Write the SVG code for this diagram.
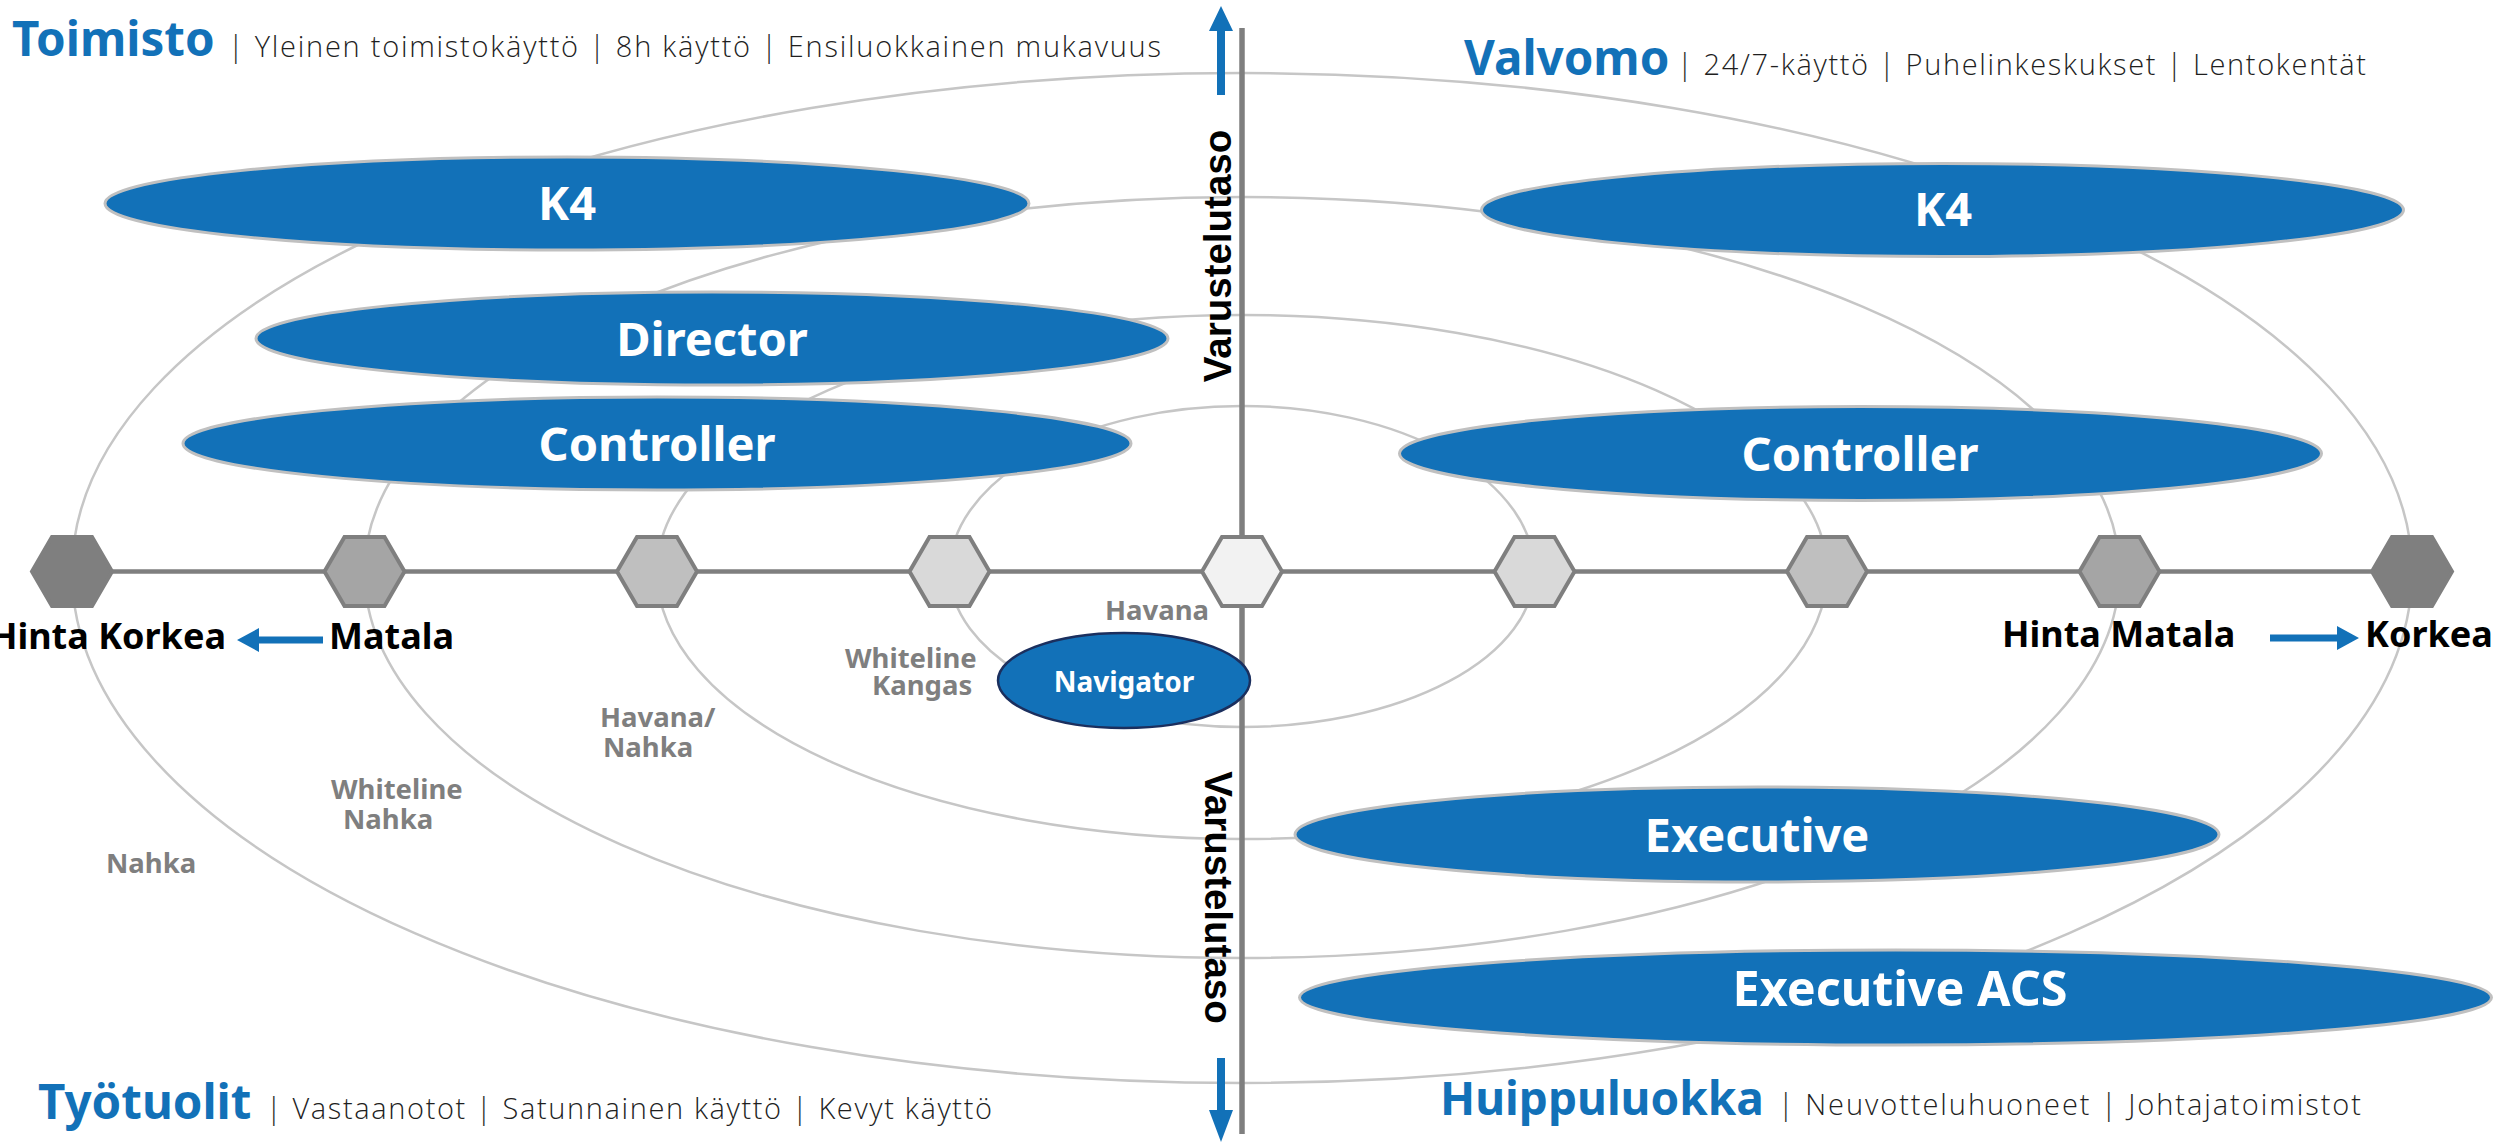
<svg xmlns="http://www.w3.org/2000/svg" width="2501" height="1144" viewBox="0 0 2501 1144">
<defs>
<style>
.ring{fill:none;stroke:#c6c6c6;stroke-width:2.5}
.axis{stroke:#7f7f7f;fill:none}
.arrow{fill:#1271b8}
.hex{stroke:#7f7f7f;stroke-width:4;stroke-linejoin:miter}
.prod{fill:#1271b8;stroke:#c0c0c0;stroke-width:3}
.ptxt{font-family:"Noto Sans","Liberation Sans",sans-serif;font-weight:700;font-size:47px;fill:#ffffff;text-anchor:middle}
.title{font-family:"Noto Sans","Liberation Sans",sans-serif;font-weight:700;font-size:47.5px;fill:#1271b8}
.sub{font-family:"Open Sans","Lato","Liberation Sans",sans-serif;font-weight:300;font-size:29px;fill:#1f1f1f}
.lbl{font-family:"Noto Sans","Liberation Sans",sans-serif;font-weight:700;font-size:27.5px;fill:#7f7f7f}
.price{font-family:"Noto Sans","Liberation Sans",sans-serif;font-weight:700;font-size:36px;fill:#000000}
.vert{font-family:"Liberation Sans",Arial,sans-serif;font-weight:700;font-size:38.5px;fill:#000000;text-anchor:middle}
</style>
<polygon id="hx" points="-20,-34.6 20,-34.6 40,0 20,34.6 -20,34.6 -40,0"/>
</defs>
<rect width="2501" height="1144" fill="#ffffff"/>

<g id="rings">
<path class="ring" d="M72,571.5 A1170,498.5 0 0 1 2412,571.5 A1170,511.5 0 0 1 72,571.5 Z"/>
<path class="ring" d="M364.5,571.5 A877.5,374.5 0 0 1 2119.5,571.5 A877.5,386.5 0 0 1 364.5,571.5 Z"/>
<path class="ring" d="M657,571.5 A585,256.5 0 0 1 1827,571.5 A585,267.5 0 0 1 657,571.5 Z"/>
<path class="ring" d="M949.5,571.5 A292.5,165.5 0 0 1 1534.5,571.5 A292.5,155.5 0 0 1 949.5,571.5 Z"/>
</g>

<g id="connectors">
<line class="axis" x1="72" y1="571.5" x2="2412" y2="571.5" stroke-width="4.5"/>
<line class="axis" x1="1242" y1="28" x2="1242" y2="1134" stroke-width="5.5"/>
<path class="arrow" d="M1217,95 L1217,31 L1209,31 L1221,6 L1233,31 L1225,31 L1225,95 Z"/>
<path class="arrow" d="M1217,1058 L1217,1110 L1209,1110 L1221,1142 L1233,1110 L1225,1110 L1225,1058 Z"/>
<path class="arrow" d="M323,636.5 L259,636.5 L259,628 L237,640 L259,652 L259,643.5 L323,643.5 Z"/>
<path class="arrow" d="M2270,634.5 L2337,634.5 L2337,626 L2359,638 L2337,650 L2337,641.5 L2270,641.5 Z"/>
</g>

<g id="hexagons">
<g id="hex-1"><use href="#hx" x="72" y="571.5" class="hex" fill="#7f7f7f"/></g>
<g id="hex-2"><use href="#hx" x="364.5" y="571.5" class="hex" fill="#a5a5a5"/></g>
<g id="hex-3"><use href="#hx" x="657" y="571.5" class="hex" fill="#bfbfbf"/></g>
<g id="hex-4"><use href="#hx" x="949.5" y="571.5" class="hex" fill="#d9d9d9"/></g>
<g id="hex-5"><use href="#hx" x="1242" y="571.5" class="hex" fill="#f2f2f2"/></g>
<g id="hex-6"><use href="#hx" x="1534.5" y="571.5" class="hex" fill="#d9d9d9"/></g>
<g id="hex-7"><use href="#hx" x="1827" y="571.5" class="hex" fill="#bfbfbf"/></g>
<g id="hex-8"><use href="#hx" x="2119.5" y="571.5" class="hex" fill="#a5a5a5"/></g>
<g id="hex-9"><use href="#hx" x="2412" y="571.5" class="hex" fill="#7f7f7f"/></g>
</g>

<g id="k4-left"><ellipse class="prod" cx="567" cy="203.5" rx="462" ry="46.5"/><text class="ptxt" x="567" y="220">K4</text></g>
<g id="director"><ellipse class="prod" cx="712" cy="338.5" rx="456" ry="46.5"/><text class="ptxt" x="712" y="356">Director</text></g>
<g id="controller-left"><ellipse class="prod" cx="657" cy="443.5" rx="474" ry="46.5"/><text class="ptxt" x="657" y="461">Controller</text></g>
<g id="k4-right"><ellipse class="prod" cx="1942.5" cy="210" rx="461" ry="46.5"/><text class="ptxt" x="1943" y="226">K4</text></g>
<g id="controller-right"><ellipse class="prod" cx="1860.5" cy="453.5" rx="461" ry="47"/><text class="ptxt" x="1860" y="471">Controller</text></g>
<g id="executive"><ellipse class="prod" cx="1757" cy="834.5" rx="462" ry="47.5"/><text class="ptxt" x="1757" y="852">Executive</text></g>
<g id="executive-acs"><ellipse class="prod" cx="1895.5" cy="997.5" rx="596" ry="47.5"/><text class="ptxt" x="1900" y="1006" style="font-size:48.5px">Executive ACS</text></g>
<g id="navigator"><ellipse cx="1124" cy="680.5" rx="126" ry="47.5" fill="#1271b8" stroke="#1b2f5e" stroke-width="2.5"/><text class="ptxt" x="1124" y="691.5" style="font-size:28px">Navigator</text></g>

<g id="material-labels">
<text class="lbl" x="1105" y="620">Havana</text>
<text class="lbl" x="845" y="668">Whiteline</text>
<text class="lbl" x="872" y="695">Kangas</text>
<text class="lbl" x="600" y="727">Havana/</text>
<text class="lbl" x="603" y="757">Nahka</text>
<text class="lbl" x="331" y="799">Whiteline</text>
<text class="lbl" x="343" y="829">Nahka</text>
<text class="lbl" x="106" y="873">Nahka</text>
</g>

<g id="price-labels">
<text class="price" x="226" y="649" text-anchor="end">Hinta Korkea</text>
<text class="price" x="329" y="649">Matala</text>
<text class="price" x="2002" y="647">Hinta Matala</text>
<text class="price" x="2365" y="647">Korkea</text>
</g>

<g id="axis-labels">
<text class="vert" transform="translate(1231,256) rotate(-90)">Varustelutaso</text>
<text class="vert" transform="translate(1205,897.5) rotate(90)">Varustelutaso</text>
</g>

<g id="quadrant-toimisto"><text class="title" x="12" y="56">Toimisto</text><text class="sub" x="228" y="56.5" textLength="933">| Yleinen toimistokäyttö | 8h käyttö | Ensiluokkainen mukavuus</text></g>
<g id="quadrant-valvomo"><text class="title" x="1464" y="74.5">Valvomo</text><text class="sub" x="1677" y="74.5" textLength="689">| 24/7-käyttö | Puhelinkeskukset | Lentokentät</text></g>
<g id="quadrant-tyotuolit"><text class="title" x="38" y="1119">Työtuolit</text><text class="sub" x="266" y="1119" textLength="726">| Vastaanotot | Satunnainen käyttö | Kevyt käyttö</text></g>
<g id="quadrant-huippuluokka"><text class="title" x="1440" y="1115" style="font-size:46px">Huippuluokka</text><text class="sub" x="1778" y="1115" textLength="583">| Neuvotteluhuoneet | Johtajatoimistot</text></g>
</svg>
